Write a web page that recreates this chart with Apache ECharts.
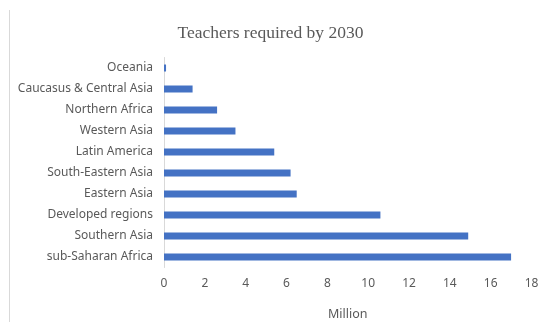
<!DOCTYPE html>
<html><head><meta charset="utf-8">
<script src="https://cdn.jsdelivr.net/npm/echarts@6/dist/echarts.min.js"></script>
<style>html,body{margin:0;padding:0;background:#fff}#c{width:541px;height:322px}</style>
</head><body><div id="c"></div>
<script>
var categories = ["Oceania","Caucasus & Central Asia","Northern Africa","Western Asia","Latin America","South-Eastern Asia","Eastern Asia","Developed regions","Southern Asia","sub-Saharan Africa"];
var values = [0.1, 1.4, 2.6, 3.5, 5.4, 6.2, 6.5, 10.6, 14.9, 17.0];
var xTicks = {min: 0, max: 18, interval: 2};
var chart = echarts.init(document.getElementById('c'), null, {renderer: 'canvas'});
chart.setOption({
  animation: false,
  title: {text: 'Teachers required by 2030', left: 'center', top: 19,
    textStyle: {fontFamily: 'Liberation Serif', fontSize: 17.5, fontWeight: 'normal', color: '#595959'}},
  graphic: [{type: 'line', shape: {x1: 9.5, y1: 10, x2: 9.5, y2: 322}, style: {stroke: '#d9d9d9', lineWidth: 1}}],
  grid: {left: 164, right: 9.5, top: 57.5, bottom: 54.5, outerBoundsMode: 'none', containLabel: false},
  xAxis: {type: 'value', min: xTicks.min, max: xTicks.max, interval: xTicks.interval,
    axisLine: {show: false}, axisTick: {show: false}, splitLine: {show: false},
    axisLabel: {color: '#595959', fontFamily: 'Noto Sans', fontSize: 12, margin: 10},
    name: 'Million', nameLocation: 'middle', nameGap: 40,
    nameTextStyle: {color: '#595959', fontFamily: 'Noto Sans', fontSize: 12.5}},
  yAxis: {type: 'category', data: categories, inverse: true,
    axisLine: {show: true, lineStyle: {color: '#d9d9d9'}}, axisTick: {show: false},
    axisLabel: {color: '#595959', fontFamily: 'Noto Sans', fontSize: 12, margin: 11}},
  series: [{type: 'bar', data: values, barWidth: 7, itemStyle: {color: '#4472C4'}}]
});
</script></body></html>
